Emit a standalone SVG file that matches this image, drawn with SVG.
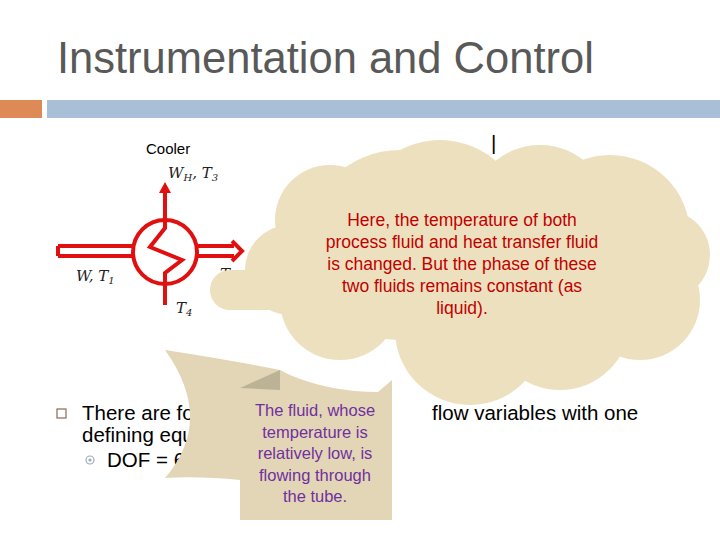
<svg xmlns="http://www.w3.org/2000/svg" width="720" height="540" viewBox="0 0 720 540">
<style>
.m{font-family:"DejaVu Serif","Liberation Serif",serif;font-style:italic;font-size:15px;fill:#222}
.b{font-family:"Liberation Sans",Arial,sans-serif;font-size:20.5px;fill:#000}
.r{stroke:#e01010;stroke-width:4;fill:none}
.red{font-family:"Liberation Sans",Arial,sans-serif;font-size:17.5px;fill:#c00000;text-anchor:middle}
.pur{font-family:"Liberation Sans",Arial,sans-serif;font-size:16.5px;fill:#7030a0;text-anchor:middle}
</style>
<rect width="720" height="540" fill="#fff"/>
<text x="57" y="73" font-family="Liberation Sans,Arial,sans-serif" font-size="43.5" fill="#595959">Instrumentation and Control</text>
<rect x="0" y="100" width="42" height="18" fill="#de8a57"/>
<rect x="47" y="100" width="673" height="18" fill="#a9bfd8"/>
<g id="cooler">
<text x="146" y="154" font-family="Liberation Sans,Arial,sans-serif" font-size="15">Cooler</text>
<circle cx="165" cy="252" r="32" class="r"/>
<polyline class="r" points="165,220 165,228 150,247 182,260 165,273 165,305"/>
<line x1="165" y1="220" x2="165" y2="192" class="r"/>
<path d="M159,193 L165,182 L171,193 Z" fill="#e01010"/>
<path d="M58,246 H133 M58,256 H133 M58,246 V256" class="r" stroke-width="3"/>
<path d="M197,246 H234 M197,256 H234 M232,241 L242,251 L232,261" class="r" stroke-width="3"/>
<text x="168" y="178" class="m">W<tspan font-size="10" dy="3">H</tspan><tspan dy="-3">, T</tspan><tspan font-size="10" dy="3">3</tspan></text>
<text x="76" y="281" class="m">W, T<tspan font-size="10" dy="3">1</tspan></text>
<text x="220" y="279" class="m">T<tspan font-size="10" dy="3">2</tspan></text>
<text x="176" y="313" class="m">T<tspan font-size="10" dy="3">4</tspan></text>
</g>
<g id="bullets">
<rect x="57" y="409" width="9" height="9" fill="none" stroke="#8b6a55" stroke-width="1.2"/>
<text x="82" y="420" class="b">There are fo</text>
<text x="82" y="442" class="b">defining equ</text>
<circle cx="90" cy="460" r="4" fill="none" stroke="#9ab" stroke-width="1.2"/><circle cx="90" cy="460" r="1.6" fill="#9ab"/>
<text x="107" y="467" class="b">DOF = 6</text>
<text x="432" y="420" class="b">flow variables with one</text>
<text x="491" y="150" class="b">|</text>
</g>
<g id="cloud" fill="#ede0bf">
<circle cx="400" cy="245" r="95"/>
<circle cx="440" cy="225" r="85"/>
<circle cx="540" cy="215" r="70"/>
<circle cx="610" cy="235" r="80"/>
<circle cx="640" cy="300" r="60"/>
<circle cx="560" cy="320" r="70"/>
<circle cx="470" cy="330" r="75"/>
<circle cx="340" cy="300" r="60"/>
<circle cx="330" cy="220" r="55"/>
<circle cx="290" cy="270" r="45"/>
<circle cx="230" cy="290" r="20"/>
<rect x="230" y="270" width="60" height="40"/>
<circle cx="665" cy="255" r="45"/>
<text class="red" x="462" y="226">Here, the temperature of both</text>
<text class="red" x="462" y="248">process fluid and heat transfer fluid</text>
<text class="red" x="462" y="270">is changed. But the phase of these</text>
<text class="red" x="462" y="292">two fluids remains constant (as</text>
<text class="red" x="462" y="314">liquid).</text>
</g>
<g id="callout">
<path d="M165,350 Q230,360 280,370 L290,375 Q330,392 378,392 L392,380 L392,520 L240,520 L240,480 Q200,476 165,478 Q215,420 165,350 Z" fill="#e3d6b6"/>
<path d="M240,388 L280,370 L280,390 Z" fill="#bcb296"/>
<text class="pur" x="315" y="416">The fluid, whose</text>
<text class="pur" x="315" y="438">temperature is</text>
<text class="pur" x="315" y="459">relatively low, is</text>
<text class="pur" x="315" y="481">flowing through</text>
<text class="pur" x="315" y="502">the tube.</text>
</g>
</svg>
